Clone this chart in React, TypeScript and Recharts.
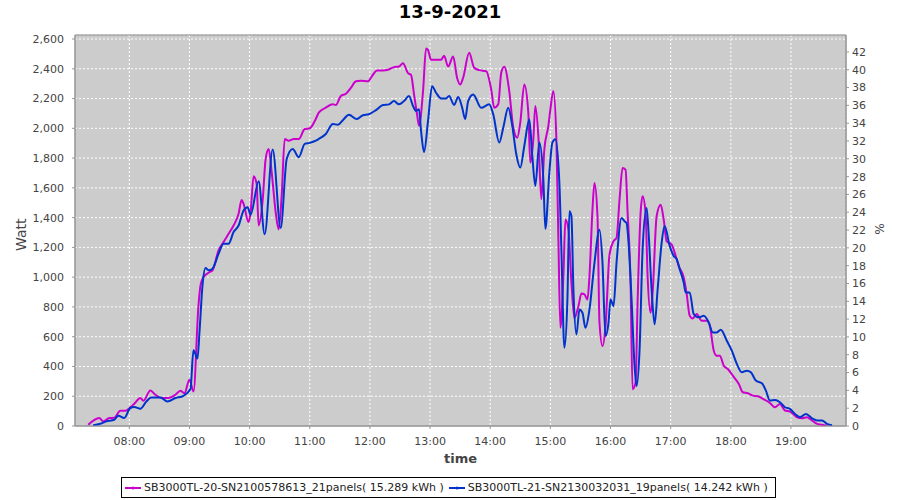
import React from "react";
import {
  LineChart,
  Line,
  XAxis,
  YAxis,
  CartesianGrid,
  ReferenceArea,
} from "recharts";

// SB3000TL-20 (magenta), time -> Watt
const sb20Series: [string, number][] = [
  ["07:19", 8], ["07:30", 54], ["07:34", 31], ["07:40", 54], ["07:45", 55],
  ["07:51", 103], ["07:56", 103], ["08:01", 125], ["08:05", 150], ["08:11", 188],
  ["08:14", 170], ["08:21", 239], ["08:26", 210], ["08:32", 188], ["08:39", 188],
  ["08:46", 210], ["08:51", 237], ["08:55", 221], ["09:00", 311], ["09:04", 232],
  ["09:09", 811], ["09:11", 945], ["09:14", 1001], ["09:19", 1030], ["09:23", 1046],
  ["09:29", 1180], ["09:34", 1236], ["09:39", 1291], ["09:44", 1347], ["09:49", 1426],
  ["09:52", 1519], ["09:54", 1492], ["09:59", 1370], ["10:01", 1437], ["10:04", 1678],
  ["10:07", 1627], ["10:09", 1347], ["10:13", 1515], ["10:16", 1794], ["10:19", 1861],
  ["10:22", 1705], ["10:26", 1437], ["10:29", 1321], ["10:32", 1549], ["10:35", 1928],
  ["10:39", 1917], ["10:44", 1928], ["10:49", 1928], ["10:55", 1995], ["11:00", 2000],
  ["11:06", 2063], ["11:09", 2106], ["11:16", 2139], ["11:23", 2161], ["11:26", 2157],
  ["11:31", 2217], ["11:36", 2232], ["11:41", 2272], ["11:46", 2316], ["11:51", 2320],
  ["11:58", 2316], ["12:03", 2360], ["12:07", 2389], ["12:13", 2389], ["12:18", 2393],
  ["12:24", 2411], ["12:29", 2415], ["12:33", 2438], ["12:38", 2371], ["12:41", 2360],
  ["12:44", 2228], ["12:47", 2095], ["12:49", 2018], ["12:53", 2250], ["12:56", 2537],
  ["12:58", 2526], ["13:01", 2460], ["13:06", 2460], ["13:11", 2460], ["13:14", 2488],
  ["13:18", 2415], ["13:23", 2482], ["13:27", 2338], ["13:30", 2294], ["13:33", 2340],
  ["13:39", 2507], ["13:44", 2407], ["13:49", 2391], ["13:56", 2384], ["14:01", 2261],
  ["14:04", 2138], ["14:08", 2161], ["14:11", 2373], ["14:14", 2413], ["14:19", 2250],
  ["14:23", 2004], ["14:27", 1937], ["14:30", 2038], ["14:34", 2295], ["14:38", 2105],
  ["14:40", 1770], ["14:43", 1926], ["14:45", 2150], ["14:48", 1949], ["14:51", 1524],
  ["14:54", 1859], ["14:58", 2016], ["15:00", 2127], ["15:03", 2250], ["15:06", 1926],
  ["15:08", 1256], ["15:10", 660], ["15:13", 1007], ["15:15", 1387], ["15:18", 1319],
  ["15:21", 962], ["15:24", 727], ["15:28", 805], ["15:31", 890], ["15:34", 884],
  ["15:37", 850], ["15:39", 1007], ["15:42", 1454], ["15:44", 1632], ["15:47", 1409],
  ["15:49", 694], ["15:52", 537], ["15:55", 671], ["15:59", 1152], ["16:03", 1241],
  ["16:06", 1264], ["16:09", 1521], ["16:12", 1733], ["16:15", 1722], ["16:17", 1442],
  ["16:20", 962], ["16:22", 247], ["16:25", 291], ["16:27", 828], ["16:30", 1431],
  ["16:32", 1543], ["16:35", 1431], ["16:37", 1007], ["16:40", 761], ["16:42", 895],
  ["16:46", 1409], ["16:50", 1487], ["16:53", 1390], ["16:56", 1240], ["17:01", 1219],
  ["17:04", 1165], ["17:08", 1076], ["17:13", 998], ["17:16", 886], ["17:19", 741],
  ["17:22", 723], ["17:26", 752], ["17:31", 707], ["17:36", 707], ["17:39", 674],
  ["17:43", 506], ["17:46", 472], ["17:49", 472], ["17:53", 405], ["17:57", 383],
  ["18:02", 338], ["18:08", 282], ["18:12", 227], ["18:17", 220], ["18:22", 204],
  ["18:27", 200], ["18:32", 182], ["18:39", 155], ["18:44", 126], ["18:49", 148],
  ["18:54", 104], ["18:59", 97], ["19:06", 59], ["19:11", 52], ["19:16", 59],
  ["19:21", 37], ["19:26", 14], ["19:31", 8], ["19:36", 0],
];

// SB3000TL-21 (blue), time -> Watt
const sb21Series: [string, number][] = [
  ["07:24", 5], ["07:31", 15], ["07:37", 31], ["07:45", 42], ["07:49", 69],
  ["07:55", 54], ["08:01", 121], ["08:05", 128], ["08:11", 116], ["08:17", 165],
  ["08:22", 192], ["08:31", 192], ["08:38", 165], ["08:46", 188], ["08:54", 203],
  ["09:01", 248], ["09:04", 509], ["09:08", 453], ["09:10", 632], ["09:13", 945],
  ["09:16", 1061], ["09:19", 1046], ["09:23", 1057], ["09:29", 1157], ["09:34", 1224],
  ["09:39", 1224], ["09:44", 1303], ["09:49", 1347], ["09:54", 1448], ["09:58", 1470],
  ["10:01", 1420], ["10:09", 1645], ["10:15", 1288], ["10:23", 1858], ["10:31", 1330],
  ["10:37", 1794], ["10:43", 1861], ["10:49", 1806], ["10:55", 1895], ["11:00", 1902],
  ["11:06", 1917], ["11:09", 1929], ["11:16", 1962], ["11:23", 2029], ["11:28", 2024],
  ["11:33", 2055], ["11:39", 2091], ["11:47", 2062], ["11:53", 2088], ["11:59", 2095],
  ["12:06", 2122], ["12:13", 2157], ["12:19", 2161], ["12:24", 2183], ["12:29", 2161],
  ["12:34", 2183], ["12:39", 2217], ["12:43", 2150], ["12:46", 2117], ["12:49", 2128],
  ["12:51", 1984], ["12:54", 1841], ["12:58", 2051], ["13:02", 2283], ["13:06", 2239],
  ["13:11", 2201], ["13:16", 2201], ["13:19", 2217], ["13:24", 2157], ["13:28", 2210],
  ["13:32", 2139], ["13:35", 2062], ["13:38", 2183], ["13:43", 2228], ["13:51", 2138],
  ["13:59", 2161], ["14:03", 2094], ["14:09", 1904], ["14:13", 2004], ["14:18", 2138],
  ["14:22", 2016], ["14:26", 1826], ["14:30", 1736], ["14:34", 1881], ["14:39", 2060],
  ["14:42", 1814], ["14:45", 1613], ["14:49", 1904], ["14:53", 1658], ["14:55", 1323],
  ["14:59", 1703], ["15:02", 1904], ["15:05", 1926], ["15:09", 1630], ["15:11", 1185],
  ["15:14", 526], ["15:17", 850], ["15:19", 1442], ["15:21", 1409], ["15:23", 917],
  ["15:26", 615], ["15:29", 783], ["15:32", 761], ["15:35", 660], ["15:39", 783],
  ["15:44", 1096], ["15:49", 1319], ["15:52", 1096], ["15:55", 604], ["15:58", 694],
  ["16:00", 850], ["16:03", 805], ["16:06", 1096], ["16:11", 1398], ["16:14", 1375],
  ["16:16", 1364], ["16:18", 1230], ["16:21", 850], ["16:24", 403], ["16:26", 269],
  ["16:29", 515], ["16:32", 1185], ["16:36", 1465], ["16:38", 1297], ["16:41", 917],
  ["16:44", 683], ["16:47", 917], ["16:51", 1230], ["16:54", 1344], ["16:59", 1210],
  ["17:03", 1143], ["17:06", 1121], ["17:09", 1054], ["17:13", 964], ["17:15", 897],
  ["17:19", 897], ["17:23", 752], ["17:28", 730], ["17:33", 741], ["17:38", 696],
  ["17:42", 629], ["17:46", 629], ["17:50", 647], ["17:56", 573], ["18:01", 506],
  ["18:06", 417], ["18:11", 361], ["18:16", 372], ["18:20", 361], ["18:25", 305],
  ["18:31", 287], ["18:35", 238], ["18:39", 171], ["18:44", 175], ["18:49", 160],
  ["18:54", 126], ["18:59", 115], ["19:04", 81], ["19:09", 59], ["19:15", 81],
  ["19:21", 52], ["19:26", 37], ["19:31", 37], ["19:36", 14], ["19:41", 5],
];

const hourTicks = [8, 9, 10, 11, 12, 13, 14, 15, 16, 17, 18, 19];
const wattTicks = [0, 200, 400, 600, 800, 1000, 1200, 1400, 1600, 1800, 2000, 2200, 2400, 2600];
const percentTicks = [0, 2, 4, 6, 8, 10, 12, 14, 16, 18, 20, 22, 24, 26, 28, 30, 32, 34, 36, 38, 40, 42];

const legendNames = [
  "SB3000TL-20-SN2100578613_21panels( 15.289 kWh )",
  "SB3000TL-21-SN2130032031_19panels( 14.242 kWh )",
];
const title = "13-9-2021";

const MAGENTA = "#cc00cc";
const BLUE = "#0033cc";
const FONT = "'DejaVu Sans', Verdana, sans-serif";

const toHours = (s: string) => {
  const [h, m] = s.split(":").map(Number);
  return h + m / 60;
};

const sb20Data = sb20Series.map(([t, w]) => ({ t: toHours(t), w }));
const sb21Data = sb21Series.map(([t, w]) => ({ t: toHours(t), w }));

const X_MIN = 7.097;
const X_MAX = 19.915;
const W_MAX = 2627;

const tickStyle = { fontSize: 11, fill: "#444", fontFamily: FONT };

function LegendItem({ color, label }: { color: string; label: string }) {
  return (
    <span style={{ display: "inline-flex", alignItems: "center", marginRight: 4 }}>
      <svg width={18} height={10} style={{ marginRight: 2 }}>
        <line x1={1} y1={5} x2={17} y2={5} stroke={color} strokeWidth={2} />
        <circle cx={9} cy={5} r={1.5} fill={color} />
      </svg>
      {label}
    </span>
  );
}

export default function App() {
  return (
    <div
      style={{
        position: "absolute",
        left: 0,
        top: 0,
        width: 900,
        height: 500,
        background: "#fff",
        fontFamily: FONT,
      }}
    >
      <div
        style={{
          position: "absolute",
          left: 0,
          width: 900,
          top: 1,
          textAlign: "center",
          fontSize: 18,
          fontWeight: "bold",
          color: "#000",
        }}
      >
        {title}
      </div>

      <LineChart
        width={900}
        height={500}
        margin={{ top: 35, right: 14, bottom: 44, left: 0 }}
      >
        <CartesianGrid
          yAxisId="left"
          stroke="#ffffff"
          strokeDasharray="2 2"
          fill="#cccccc"
          fillOpacity={1}
        />
        <XAxis
          type="number"
          dataKey="t"
          domain={[X_MIN, X_MAX]}
          allowDataOverflow
          ticks={hourTicks}
          tickFormatter={(h: number) => `${String(h).padStart(2, "0")}:00`}
          tick={tickStyle}
          tickSize={3}
          tickMargin={8}
          height={30}
          stroke="#999"
        />
        <YAxis
          yAxisId="left"
          type="number"
          domain={[0, W_MAX]}
          allowDataOverflow
          ticks={wattTicks}
          tickFormatter={(v: number) => v.toLocaleString("en-US")}
          tick={tickStyle}
          tickSize={3}
          tickMargin={8}
          width={75}
          stroke="#999"
        />
        <YAxis
          yAxisId="right"
          orientation="right"
          type="number"
          domain={[0, 43.9]}
          allowDataOverflow
          ticks={percentTicks}
          tick={tickStyle}
          tickSize={3}
          tickMargin={3}
          width={40}
          stroke="#999"
        />
        <ReferenceArea
          yAxisId="left"
          x1={X_MIN}
          x2={X_MAX}
          y1={0}
          y2={W_MAX}
          fill="none"
          stroke="#808080"
          strokeWidth={1}
          ifOverflow="visible"
        />
        <Line
          yAxisId="left"
          data={sb20Data}
          dataKey="w"
          type="monotone"
          stroke={MAGENTA}
          strokeWidth={2}
          dot={false}
          isAnimationActive={false}
        />
        <Line
          yAxisId="left"
          data={sb21Data}
          dataKey="w"
          type="monotone"
          stroke={BLUE}
          strokeWidth={2}
          dot={false}
          isAnimationActive={false}
        />
      </LineChart>

      <div
        style={{
          position: "absolute",
          left: 6,
          top: 236,
          fontSize: 14,
          color: "#444",
          transform: "translate(0, -50%) rotate(-90deg)",
          transformOrigin: "center",
          width: 30,
          textAlign: "center",
        }}
      >
        Watt
      </div>
      <div
        style={{
          position: "absolute",
          left: 873,
          top: 222,
          fontSize: 12,
          color: "#444",
          transform: "rotate(90deg)",
        }}
      >
        %
      </div>
      <div
        style={{
          position: "absolute",
          left: 75,
          width: 771,
          top: 451,
          textAlign: "center",
          fontSize: 13,
          fontWeight: "bold",
          color: "#444",
        }}
      >
        time
      </div>
      <div
        style={{
          position: "absolute",
          left: 121,
          top: 477,
          width: 655,
          height: 21,
          border: "1px solid #000",
          fontSize: 11,
          color: "#222",
          display: "flex",
          alignItems: "center",
          paddingLeft: 2,
          whiteSpace: "nowrap",
          boxSizing: "border-box",
        }}
      >
        <LegendItem color={MAGENTA} label={legendNames[0]} />
        <LegendItem color={BLUE} label={legendNames[1]} />
      </div>
    </div>
  );
}
